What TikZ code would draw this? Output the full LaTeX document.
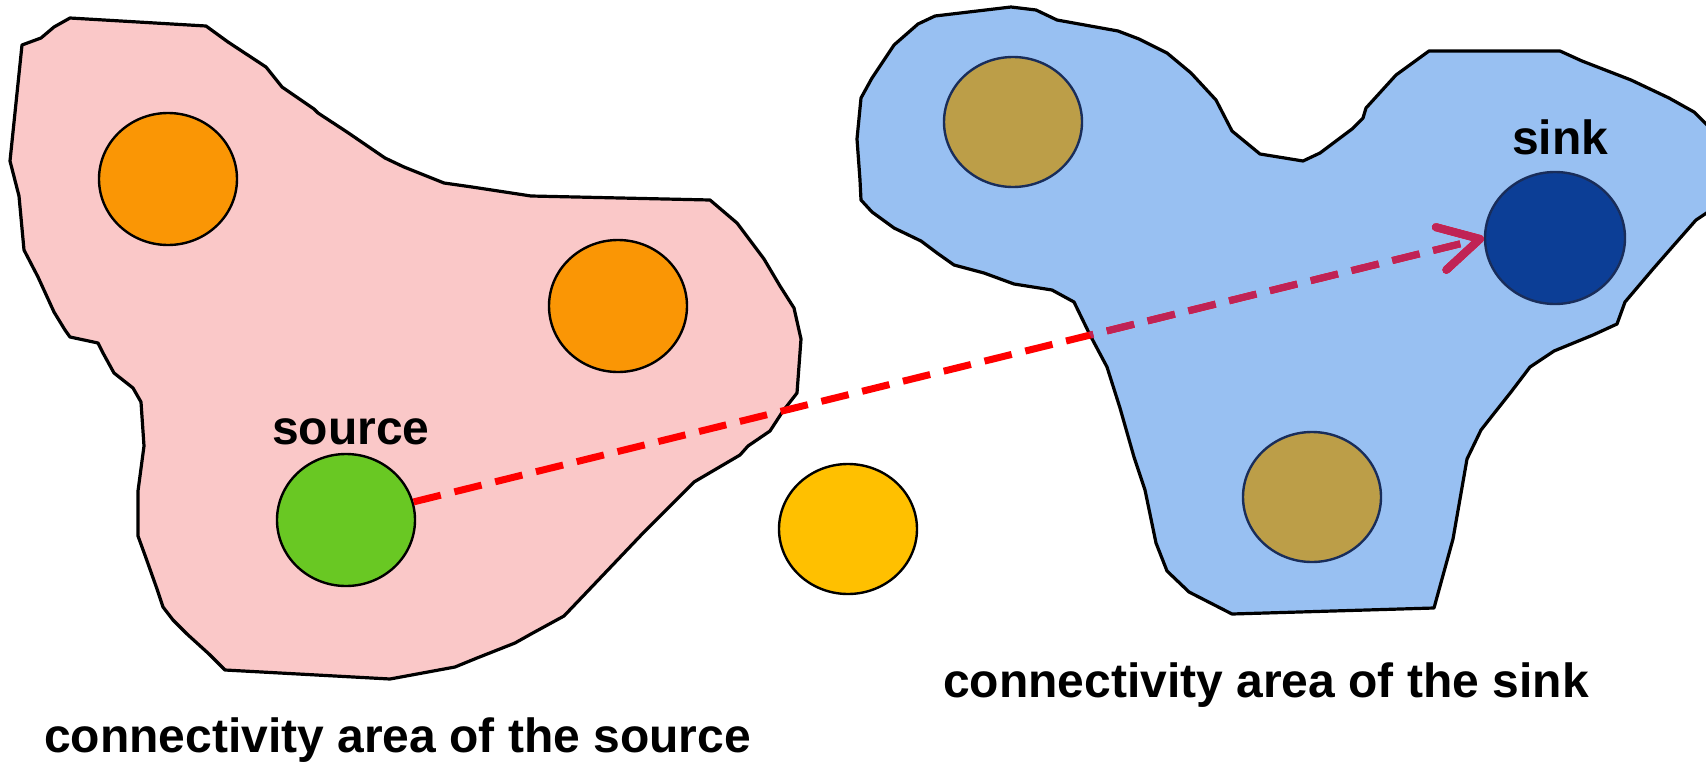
\documentclass[tikz,border=0pt]{standalone}
\usepackage{fontspec}
\setmainfont{Liberation Sans}
\usetikzlibrary{shapes.geometric,arrows.meta,calc}
\definecolor{pinkarea}{RGB}{250,200,200}
\definecolor{bluearea}{RGB}{152,192,242}
\definecolor{orangec}{RGB}{250,150,5}
\definecolor{greenc}{RGB}{105,200,35}
\definecolor{yellowc}{RGB}{255,192,0}
\definecolor{olivec}{RGB}{188,158,72}
\definecolor{sinkc}{RGB}{12,62,150}
\definecolor{navyline}{RGB}{25,45,90}
\definecolor{linkred}{RGB}{255,0,0}
\definecolor{linkpurple}{RGB}{192,35,85}
\newcommand\sinkarea{(935,16) -- (1011,7) -- (1036,10) -- (1057,20) -- (1118,31) -- (1139,39) -- (1167,53) -- (1191,73) -- (1216,100) -- (1232,131) -- (1260,154) -- (1303,161) -- (1320,153) -- (1336,141) -- (1352,129) -- (1363,118) -- (1366,108) -- (1396,75) -- (1429,51) -- (1560,51) -- (1582,61) -- (1631,80) -- (1669,98) -- (1694,112) -- (1714,132) -- (1714,208) -- (1696,220) -- (1674,245) -- (1653,269) -- (1625,302) -- (1617,324) -- (1593,335) -- (1554,351) -- (1530,367) -- (1511,392) -- (1492,416) -- (1481,430) -- (1467,459) -- (1453,539) -- (1434,608) -- (1232,614) -- (1189,592) -- (1167,571) -- (1156,543) -- (1145,490) -- (1134,457) -- (1120,408) -- (1107,367) -- (1090,335) -- (1074,302) -- (1052,290) -- (1014,284) -- (984,273) -- (954,265) -- (937,253) -- (921,241) -- (894,228) -- (872,212) -- (861,200) -- (860,180) -- (857,139) -- (861,98) -- (872,78) -- (894,45) -- (918,24) -- cycle}
\tikzset{
  area/.style={draw=black, line width=3.2pt, line join=round},
  spot/.style={ellipse, minimum width=138pt, minimum height=132pt, inner sep=0pt, line width=2.4pt},
  pinkspot/.style={spot, draw=black},
  bluespot/.style={spot, draw=navyline},
  lbl/.style={anchor=base west, inner sep=0pt, font=\fontsize{48}{56}\selectfont\bfseries},
  link/.style={line width=7pt, dash pattern=on 28pt off 14pt, -{Straight Barb[length=40pt, width=44pt, line width=8pt, round]}}
}
\begin{document}
\begin{tikzpicture}[x=1pt,y=-1pt]
\useasboundingbox (0,0) rectangle (1706,763);
% connectivity area of the source
\path[area, fill=pinkarea] (70,18) -- (206,26) -- (228,42) -- (266,67) -- (282,87) -- (314,109) -- (318,113) -- (347,132) -- (385,158) -- (404,167) -- (444,183) -- (472,187) -- (531,196) -- (710,200) -- (737,223) -- (764,259) -- (780,286) -- (794,308) -- (801,339) -- (797,393) -- (783,411) -- (770,431) -- (748,446) -- (740,455) -- (694,482) -- (645,531) -- (585,594) -- (564,616) -- (531,634) -- (515,643) -- (477,658) -- (455,667) -- (390,679) -- (225,670) -- (209,654) -- (187,634) -- (173,620) -- (163,607) -- (157,589) -- (146,558) -- (138,536) -- (138,491) -- (144,446) -- (141,402) -- (133,388) -- (114,373) -- (103,353) -- (98,343) -- (70,337) -- (65,330) -- (54,312) -- (38,277) -- (24,250) -- (19,196) -- (10,161) -- (22,45) -- (41,38) -- (54,27) -- cycle;
% connectivity area of the sink
\path[area, fill=bluearea] \sinkarea;
% nodes
\node[pinkspot, fill=orangec] (o1) at (168,179) {};
\node[pinkspot, fill=orangec] (o2) at (618,306) {};
\node[pinkspot, fill=greenc] (src) at (346,520) {};
\node[pinkspot, fill=yellowc, minimum height=130pt] (yel) at (848,529) {};
\node[bluespot, fill=olivec, minimum height=130pt] (ol1) at (1013,122) {};
\node[bluespot, fill=olivec, minimum height=130pt] (ol2) at (1312,497) {};
\node[bluespot, fill=sinkc, minimum width=140pt] (sink) at (1555,238) {};
% link
\draw[link, draw=linkred] (src.15) -- (sink.west);
\begin{scope}
  \clip \sinkarea;
  \draw[link, draw=linkpurple] (src.15) -- (sink.west);
\end{scope}
% labels
\node[lbl] (srclbl) at (272,444) {source};
\node[lbl] (sinklbl) at (1512,154) {sink};
\node[lbl] (srcarea) at (44,752) {connectivity area of the source};
\node[lbl] (sinkarealbl) at (943,697) {connectivity area of the sink};
\end{tikzpicture}
\end{document}
